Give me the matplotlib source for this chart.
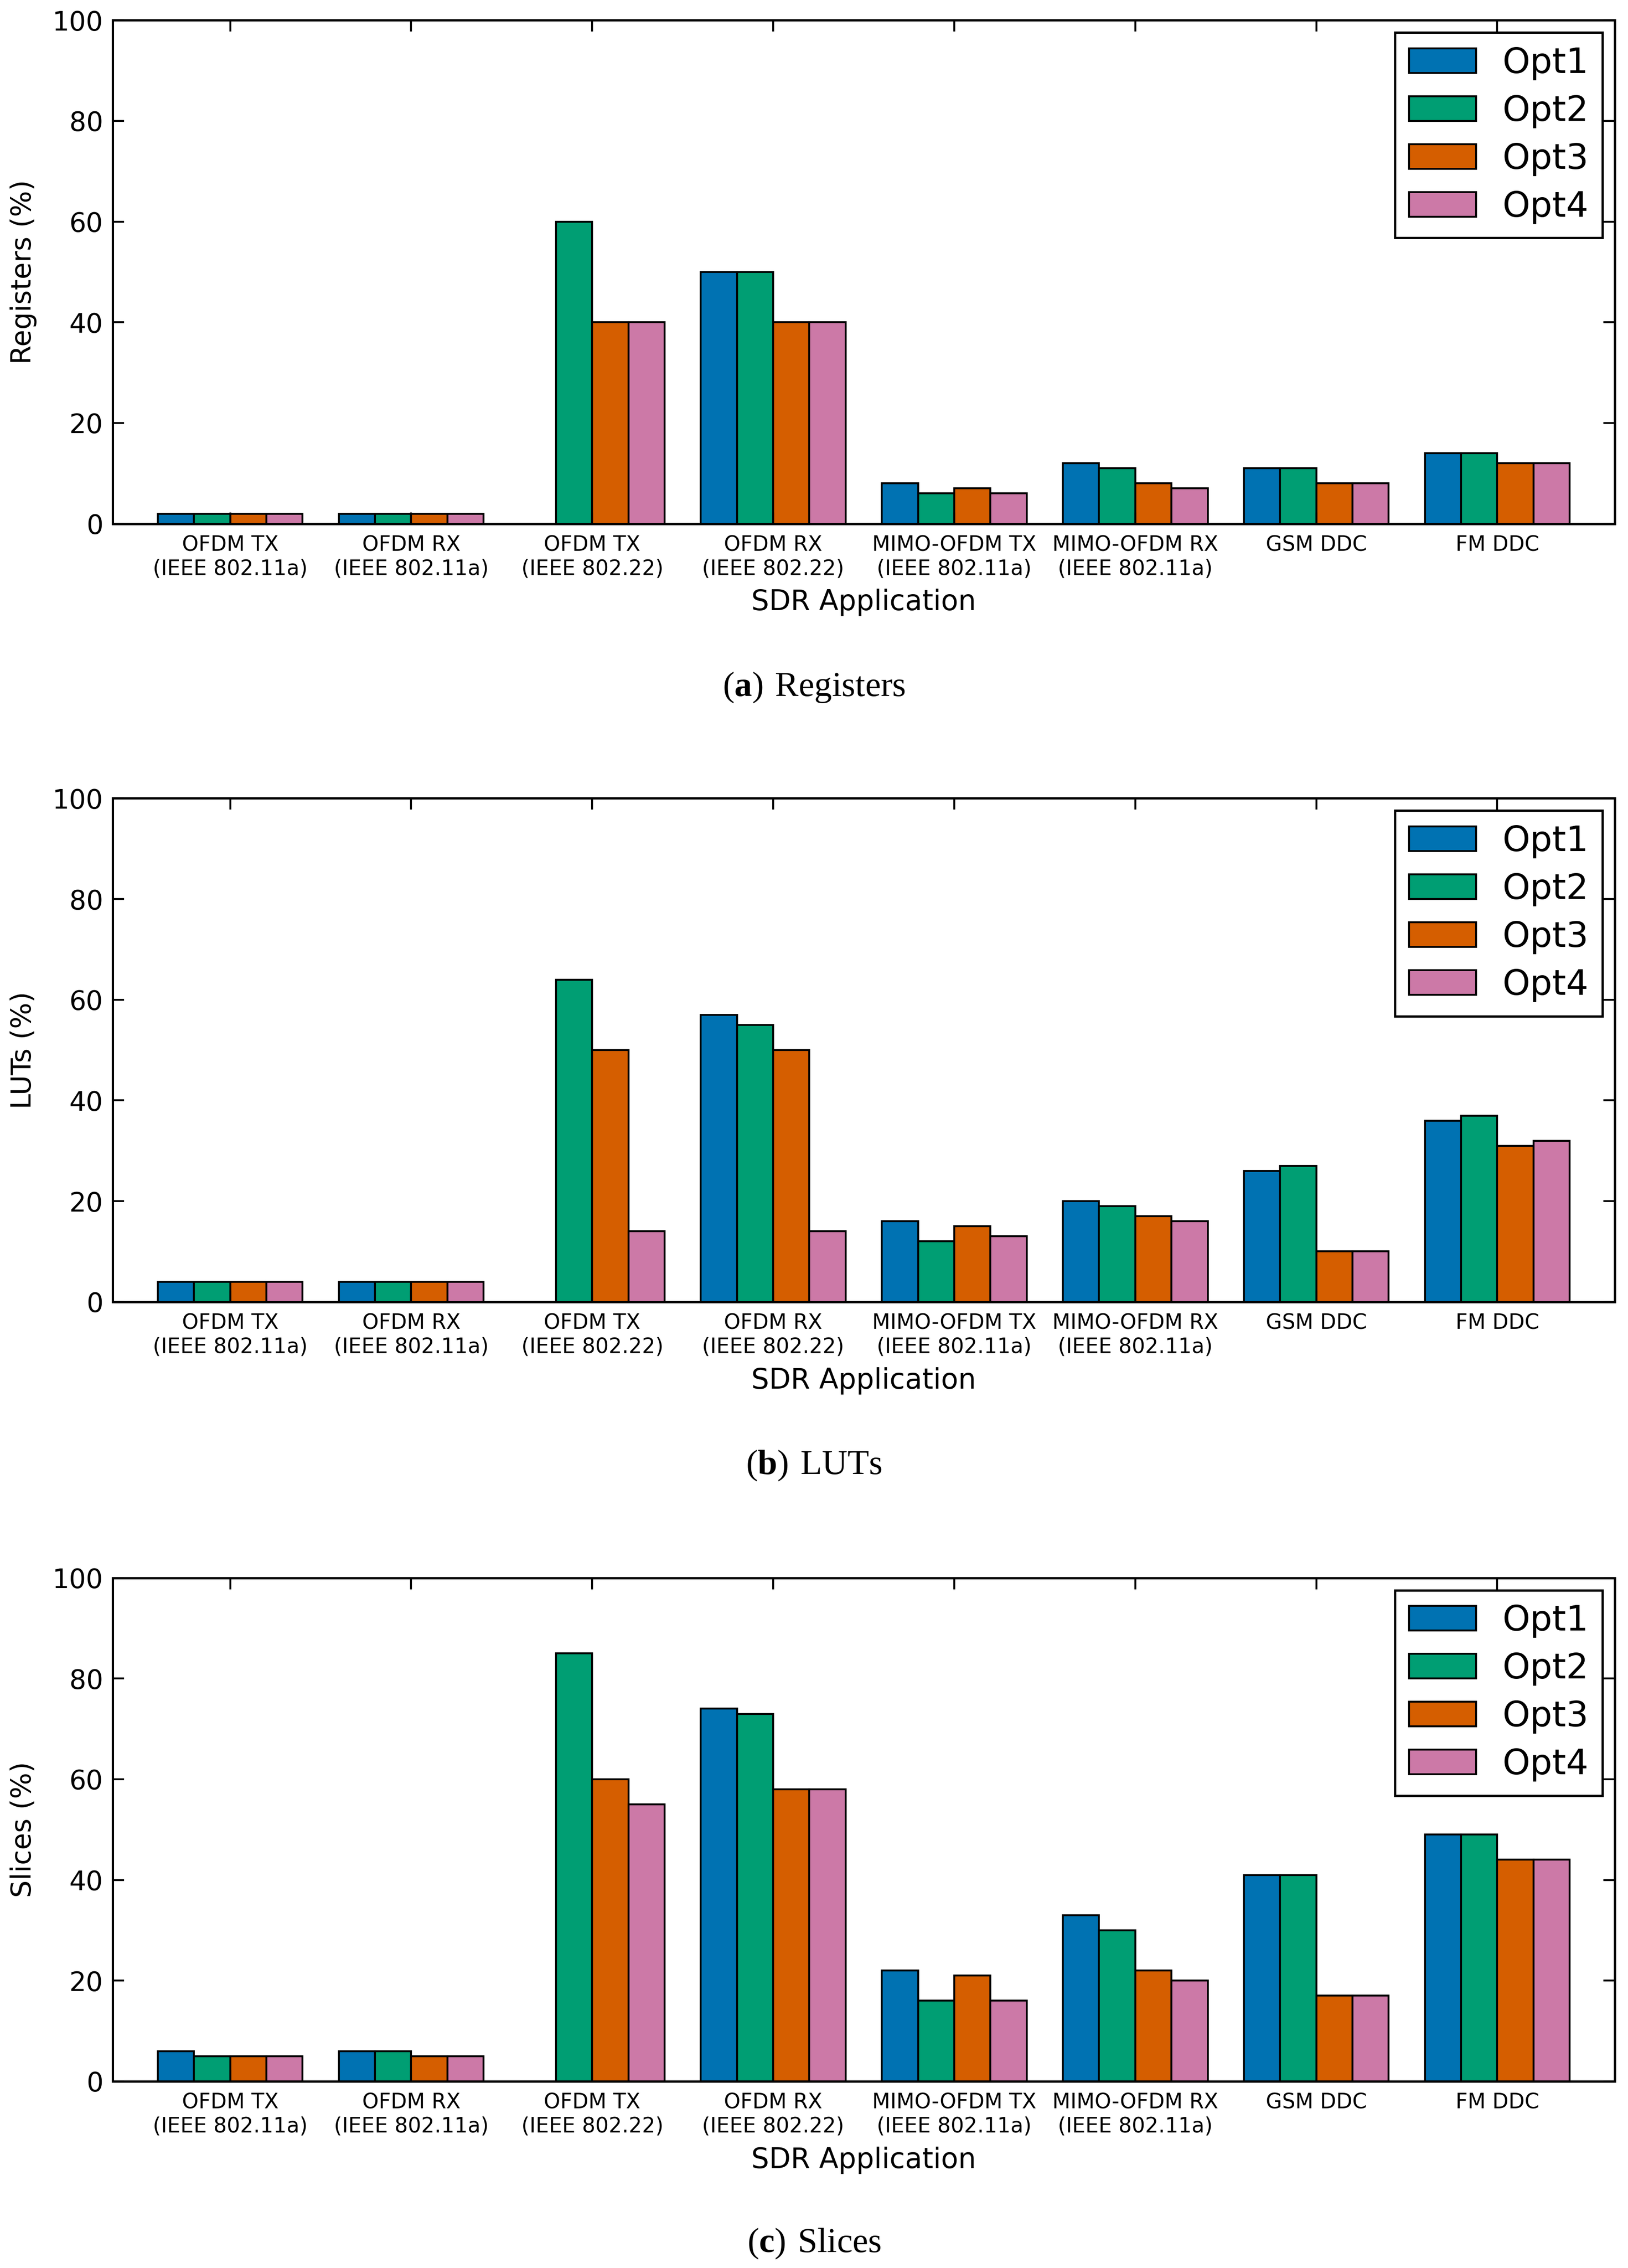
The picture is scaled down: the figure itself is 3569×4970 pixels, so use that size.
import matplotlib
matplotlib.use('Agg')
import matplotlib.pyplot as plt
import numpy as np

plt.rcParams['font.family'] = ['DejaVu Sans']
plt.rcParams['mathtext.fontset'] = 'custom'
plt.rcParams['mathtext.rm'] = 'Liberation Serif'
plt.rcParams['mathtext.bf'] = 'Liberation Serif:bold'

apps = ['OFDM TX\n(IEEE 802.11a)', 'OFDM RX\n(IEEE 802.11a)', 'OFDM TX\n(IEEE 802.22)',
        'OFDM RX\n(IEEE 802.22)', 'MIMO-OFDM TX\n(IEEE 802.11a)', 'MIMO-OFDM RX\n(IEEE 802.11a)',
        'GSM DDC', 'FM DDC']
opts = ['Opt1', 'Opt2', 'Opt3', 'Opt4']
colors = ['#0072B2', '#009E73', '#D55E00', '#CC79A7']

# rows = application, columns = Opt1..Opt4
registers = [[2, 2, 2, 2], [2, 2, 2, 2], [0, 60, 40, 40], [50, 50, 40, 40],
             [8, 6, 7, 6], [12, 11, 8, 7], [11, 11, 8, 8], [14, 14, 12, 12]]
luts = [[4, 4, 4, 4], [4, 4, 4, 4], [0, 64, 50, 14], [57, 55, 50, 14],
        [16, 12, 15, 13], [20, 19, 17, 16], [26, 27, 10, 10], [36, 37, 31, 32]]
slices = [[6, 5, 5, 5], [6, 6, 5, 5], [0, 85, 60, 55], [74, 73, 58, 58],
          [22, 16, 21, 16], [33, 30, 22, 20], [41, 41, 17, 17], [49, 49, 44, 44]]

panels = [(registers, 'Registers (%)', r'$\mathrm{(}\mathbf{a}\mathrm{)\ Registers}$'),
          (luts, 'LUTs (%)', r'$\mathrm{(}\mathbf{b}\mathrm{)\ LUTs}$'),
          (slices, 'Slices (%)', r'$\mathrm{(}\mathbf{c}\mathrm{)\ Slices}$')]
bottoms = [0.7691, 0.426, 0.0823]
cap_y = [0.697, 0.354, 0.0108]

fig = plt.figure(figsize=(3569 / 300, 4970 / 300), dpi=300)
fig.patch.set_facecolor('white')

x = np.arange(len(apps))
w = 0.2
for (data, ylab, cap), b, cy in zip(panels, bottoms, cap_y):
    ax = fig.add_axes([0.0691, b, 0.9229, 0.222])
    data = np.array(data)
    for j in range(4):
        ax.bar(x - 0.4 + j * w, data[:, j], w, align='edge', color=colors[j],
               edgecolor='black', linewidth=1.0, label=opts[j])
    ax.set_xlim(-0.65, 7.65)
    ax.set_ylim(0, 100)
    ax.set_xticks(x)
    ax.set_xticklabels(apps, fontsize=11)
    ax.tick_params(axis='x', pad=6)
    ax.set_yticks([0, 20, 40, 60, 80, 100])
    ax.tick_params(axis='y', labelsize=14, pad=5)
    ax.tick_params(direction='in', top=True, right=True, length=6, width=1)
    for s in ax.spines.values():
        s.set_linewidth(1.2)
    ax.set_ylabel(ylab, fontsize=14.5, labelpad=8)
    ax.set_xlabel('SDR Application', fontsize=14.8, labelpad=5)
    leg = ax.legend(loc='upper right', fontsize=18.5, fancybox=False, framealpha=1,
                    edgecolor='black', handlelength=1.9, handleheight=0.7,
                    labelspacing=0.4, handletextpad=0.75, borderaxespad=0.35)
    leg.get_frame().set_linewidth(1.2)
    fig.text(0.5, cy, cap, ha='center', va='center', fontsize=18.5)

fig.savefig('out.png', dpi=300, facecolor='white')
